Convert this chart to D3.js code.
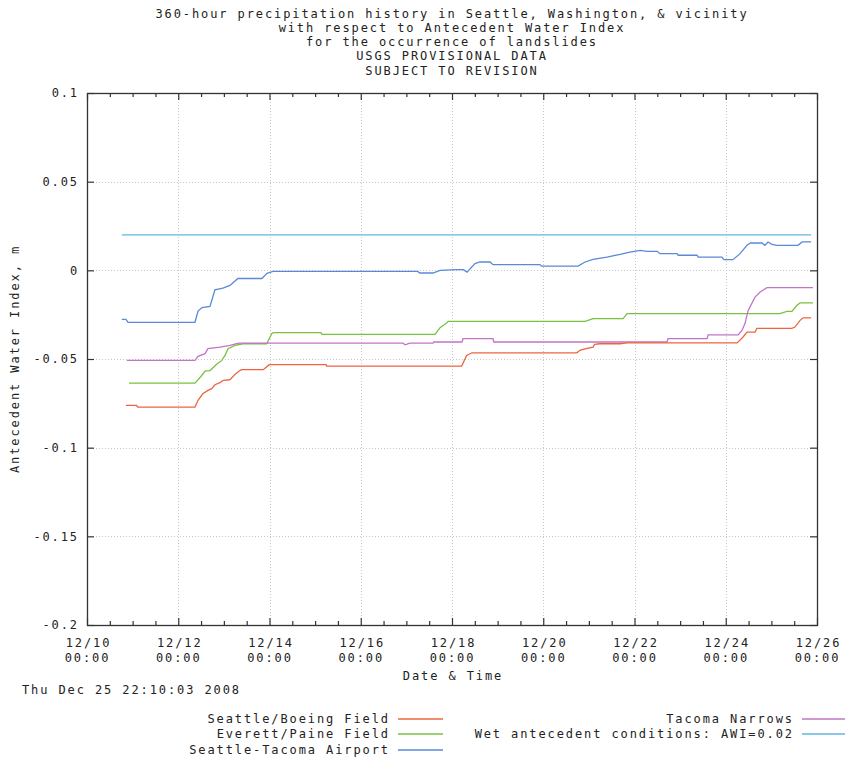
<!DOCTYPE html>
<html>
<head>
<meta charset="utf-8">
<script src="https://cdn.jsdelivr.net/npm/d3@7"></script>
<style>
  html, body { margin: 0; padding: 0; background: #fff; }
  svg { display: block; }
  text { font-family: "DejaVu Sans Mono", monospace; font-size: 12px; letter-spacing: 1.9px; fill: #222; }
</style>
</head>
<body>
<svg id="chart" width="845" height="757"></svg>
<script>
// Station records: [hours after 2008-12-10 00:00, antecedent water index (m)]
const boeingField = [
  [20.5,-0.0762],[26,-0.0762],[26.8,-0.0771],[56.8,-0.0771],[58.4,-0.0733],[60.9,-0.0696],
  [63.6,-0.0677],[65.6,-0.0667],[67.3,-0.0645],[70,-0.0633],[71.7,-0.062],[75.2,-0.0617],
  [77.8,-0.0587],[80.5,-0.0564],[81.5,-0.056],[92.7,-0.056],[95.4,-0.0536],[96,-0.0532],
  [125.8,-0.0532],[126.1,-0.054],[197.1,-0.054],[199.7,-0.048],[202.5,-0.0465],[257.7,-0.0465],
  [259.3,-0.0451],[262,-0.0443],[266.2,-0.0433],[267,-0.0417],[269.8,-0.0414],[280.4,-0.0414],
  [284.1,-0.0409],[342,-0.0409],[345.1,-0.0376],[347.2,-0.0348],[351.4,-0.0348],[352.4,-0.0327],
  [370.8,-0.0327],[372.4,-0.032],[375.1,-0.0282],[376.7,-0.0268],[380.9,-0.0268]
];
const paineField = [
  [22.1,-0.0636],[56.8,-0.0636],[59.8,-0.060],[62.1,-0.0568],[64.7,-0.0565],[68.2,-0.053],
  [70.9,-0.0508],[72.6,-0.048],[74.2,-0.0442],[77.8,-0.0423],[82.1,-0.0414],[94.5,-0.0414],
  [97.2,-0.0357],[98,-0.0351],[123,-0.0351],[123.6,-0.0361],[183.1,-0.0361],[185.7,-0.0323],
  [189.2,-0.0297],[190,-0.0288],[262,-0.0288],[266.2,-0.0272],[282,-0.0272],[284.1,-0.0244],
  [364.5,-0.0244],[368.2,-0.0231],[370.8,-0.0231],[373.5,-0.0197],[375.1,-0.0184],[381.9,-0.0184]
];
const seaTacAirport = [
  [18.3,-0.0277],[20.5,-0.0277],[21.6,-0.0293],[56.8,-0.0293],[58.4,-0.023],[60.5,-0.021],
  [64.7,-0.0203],[67.3,-0.011],[71.5,-0.010],[75.2,-0.0085],[79.4,-0.0046],[92,-0.0046],
  [94.7,-0.0017],[97.8,-0.0006],[174,-0.0006],[175,-0.0015],[182,-0.0015],[185.7,0],
  [194,0.0004],[198,0.0004],[199.9,-0.001],[204.1,0.0038],[206.7,0.0047],[212,0.0047],
  [213.6,0.0032],[238.3,0.0032],[239,0.0024],[258.3,0.0024],[262,0.0047],[266.2,0.0062],
  [273.5,0.0075],[280.4,0.009],[285.6,0.0103],[290.9,0.0113],[294.6,0.0107],[300,0.0107],
  [301.4,0.0094],[310.4,0.0094],[311,0.0085],[320.9,0.0085],[321.5,0.0075],[334,0.0075],
  [335,0.006],[339.8,0.006],[343.5,0.0094],[347.2,0.0141],[349,0.0154],[355.1,0.0154],
  [356.6,0.0141],[358.2,0.016],[360.3,0.0147],[363,0.0141],[374,0.0141],[376.2,0.016],[380.9,0.016]
];
const tacomaNarrows = [
  [20.9,-0.0508],[56.8,-0.0508],[58.4,-0.0485],[62.1,-0.047],[63.6,-0.0442],[70,-0.0433],
  [75.2,-0.0423],[78.7,-0.0413],[80,-0.041],[166.2,-0.041],[167.3,-0.042],[169.8,-0.041],
  [182,-0.041],[182.5,-0.0404],[197.3,-0.0404],[197.8,-0.0385],[213.6,-0.0385],[214,-0.0404],
  [305.1,-0.0404],[305.6,-0.0385],[326.2,-0.0385],[326.7,-0.0364],[342.5,-0.0364],[344.6,-0.0338],
  [346.1,-0.030],[347.8,-0.0226],[351.4,-0.0151],[354.1,-0.0122],[357.7,-0.0098],[381.9,-0.0098]
];
// Wet antecedent threshold, drawn across the record period
const wetThreshold = [[18.3,0.02],[380.9,0.02]];

const titleLines = [
  "360-hour precipitation history in Seattle, Washington, & vicinity",
  "with respect to Antecedent Water Index",
  "for the occurrence of landslides",
  "USGS PROVISIONAL DATA",
  "SUBJECT TO REVISION"
];
const yTicks = [0.1, 0.05, 0, -0.05, -0.1, -0.15, -0.2];
const yTickLabels = ["0.1", "0.05", "0", "-0.05", "-0.1", "-0.15", "-0.2"];
const xTickDays = [10, 12, 14, 16, 18, 20, 22, 24, 26];
const timestamp = "Thu Dec 25 22:10:03 2008";

const series = [
  { name: "Seattle/Boeing Field", data: boeingField, color: "#ee6440" },
  { name: "Everett/Paine Field", data: paineField, color: "#7cc043" },
  { name: "Seattle-Tacoma Airport", data: seaTacAirport, color: "#5a8ad6" },
  { name: "Tacoma Narrows", data: tacomaNarrows, color: "#c274c6" },
  { name: "Wet antecedent conditions: AWI=0.02", data: wetThreshold, color: "#62b6e2" }
];

const svg = d3.select("#chart");
const plotL = 87, plotR = 817, plotT = 93, plotB = 625;

const t0 = Date.UTC(2008, 11, 10);
const toDate = h => new Date(t0 + h * 3600e3);
const x = d3.scaleUtc()
  .domain([new Date(Date.UTC(2008, 11, 10)), new Date(Date.UTC(2008, 11, 26))])
  .range([plotL, plotR]);
const y = d3.scaleLinear().domain([-0.2, 0.1]).range([plotB, plotT]);

// Title
svg.append("g").selectAll("text").data(titleLines).join("text")
  .attr("x", 452).attr("y", (d, i) => 17.5 + i * 14.3)
  .attr("text-anchor", "middle").text(d => d);

// Grid
const majorDates = xTickDays.map(d => new Date(Date.UTC(2008, 11, d)));
const grid = svg.append("g").attr("stroke", "#c8c8c8").attr("stroke-width", 1)
  .attr("stroke-dasharray", "1,2");
grid.selectAll(".gx").data(majorDates.slice(1, -1)).join("line")
  .attr("x1", d => Math.round(x(d)) + 0.5).attr("x2", d => Math.round(x(d)) + 0.5)
  .attr("y1", plotT).attr("y2", plotB);
grid.selectAll(".gy").data(yTicks.slice(1, -1)).join("line")
  .attr("y1", d => Math.round(y(d)) + 0.5).attr("y2", d => Math.round(y(d)) + 0.5)
  .attr("x1", plotL).attr("x2", plotR);

// Axes with inward ticks on all four sides
const minorDates = d3.utcHour.every(12).range(majorDates[0], majorDates[majorDates.length - 1])
  .filter(d => d.getUTCHours() === 12 || d.getUTCDate() % 2 === 1);

function styleAxis(g) {
  g.select(".domain").remove();
  g.selectAll("line").attr("stroke", "#333").attr("stroke-width", 1.2);
}
function styleLabels(sel) {
  sel.attr("fill", "#222").style("font-size", "12px").style("letter-spacing", "1.9px")
    .style("font-family", "DejaVu Sans Mono, monospace");
}

const xAxis = svg.append("g").attr("transform", `translate(0,${plotB})`)
  .call(d3.axisBottom(x).tickValues(majorDates).tickSizeInner(-7).tickSizeOuter(0).tickPadding(12)
    .tickFormat(d3.utcFormat("%m/%d")));
styleAxis(xAxis);
xAxis.selectAll("text").each(function(d) {
  const t = d3.select(this);
  t.text(null).attr("y", 22).attr("dy", null).attr("dx", "1px");
  styleLabels(t);
  t.append("tspan").attr("x", 0).text(d3.utcFormat("%m/%d")(d));
  t.append("tspan").attr("x", 0).attr("dy", 14.5).text(d3.utcFormat("%H:%M")(d));
});
svg.append("g").attr("transform", `translate(0,${plotB})`)
  .call(d3.axisBottom(x).tickValues(minorDates).tickSizeInner(-4).tickSizeOuter(0).tickFormat(""))
  .call(styleAxis);
svg.append("g").attr("transform", `translate(0,${plotT})`)
  .call(d3.axisTop(x).tickValues(majorDates).tickSizeInner(-7).tickSizeOuter(0).tickFormat(""))
  .call(styleAxis);
svg.append("g").attr("transform", `translate(0,${plotT})`)
  .call(d3.axisTop(x).tickValues(minorDates).tickSizeInner(-4).tickSizeOuter(0).tickFormat(""))
  .call(styleAxis);

const yAxis = svg.append("g").attr("transform", `translate(${plotL},0)`)
  .call(d3.axisLeft(y).tickValues(yTicks).tickSizeInner(-7).tickSizeOuter(0).tickPadding(8)
    .tickFormat((d, i) => yTickLabels[i]));
styleAxis(yAxis);
styleLabels(yAxis.selectAll("text"));
svg.append("g").attr("transform", `translate(${plotR},0)`)
  .call(d3.axisRight(y).tickValues(yTicks).tickSizeInner(-7).tickSizeOuter(0).tickFormat(""))
  .call(styleAxis);

// Frame
svg.append("rect").attr("x", plotL + 0.5).attr("y", plotT + 0.5)
  .attr("width", plotR - plotL).attr("height", plotB - plotT)
  .attr("fill", "none").attr("stroke", "#333").attr("stroke-width", 1.3);

// Axis titles
svg.append("text").attr("transform", `translate(19,${(plotT + plotB) / 2}) rotate(-90)`)
  .attr("text-anchor", "middle").text("Antecedent Water Index, m");
svg.append("text").attr("x", 453).attr("y", 680).attr("text-anchor", "middle").text("Date & Time");
svg.append("text").attr("x", 22).attr("y", 694).text(timestamp);

// Series lines
const line = d3.line().x(d => x(toDate(d[0]))).y(d => y(d[1]));
const drawOrder = [4, 2, 1, 3, 0];
svg.append("g").selectAll("path").data(drawOrder.map(i => series[i])).join("path")
  .attr("d", s => line(s.data)).attr("fill", "none")
  .attr("stroke", s => s.color).attr("stroke-width", 1.3);

// Legend
const legendItems = [
  { s: series[0], tx: 390, ty: 723 },
  { s: series[1], tx: 390, ty: 738 },
  { s: series[2], tx: 390, ty: 754 },
  { s: series[3], tx: 794, ty: 723 },
  { s: series[4], tx: 794, ty: 738 }
];
const lg = svg.append("g");
legendItems.forEach(it => {
  lg.append("text").attr("x", it.tx).attr("y", it.ty).attr("text-anchor", "end").text(it.s.name);
  lg.append("line").attr("x1", it.tx + 8).attr("x2", it.tx + 53)
    .attr("y1", it.ty - 4).attr("y2", it.ty - 4)
    .attr("stroke", it.s.color).attr("stroke-width", 1.3);
});
</script>
</body>
</html>
